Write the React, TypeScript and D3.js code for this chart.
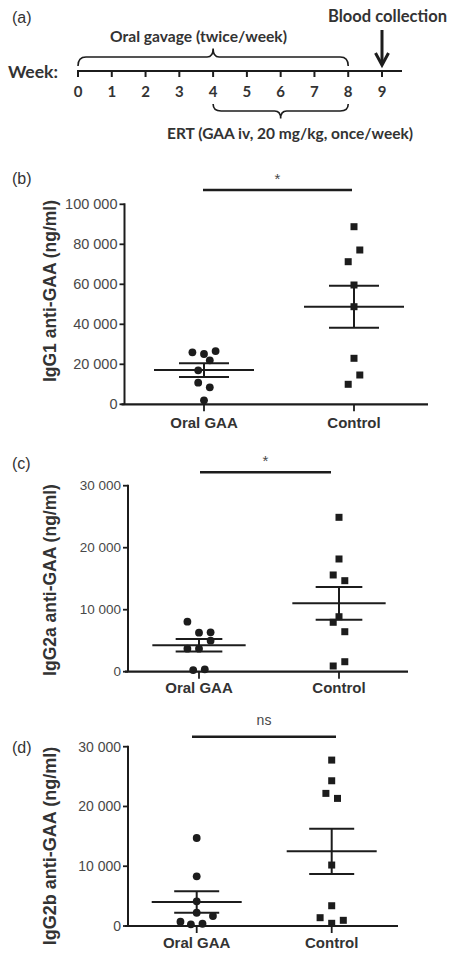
import React from "react";
import * as d3 from "d3";

// ---------- DATA ----------
const categories = ["Oral GAA", "Control"];
const weekTicks = [0, 1, 2, 3, 4, 5, 6, 7, 8, 9];

// IgG1 (panel b)
const igg1Oral = [26000, 25150, 26600, 22000, 17000, 10800, 8500, 2000];
const igg1OralSlot = [-2, 0, 2, 1, -1, -1, 1, 0];
const igg1Control = [88800, 77150, 71300, 59650, 48800, 23000, 14650, 10000];
const igg1ControlSlot = [0, 1, -1, 0, 0, 0, 1, -1];
const igg1Mean = [17100, 48800];
const igg1Sem = [3450, 10500];
const igg1Ticks = [0, 20000, 40000, 60000, 80000, 100000];

// IgG2a (panel c)
const igg2aOral = [8065, 6290, 6355, 5000, 3710, 3710, 270, 390];
const igg2aOralSlot = [-2, 0, 2, 2, -2, 0, -1, 1];
const igg2aControl = [24900, 18180, 15600, 14680, 8870, 7970, 6450, 1610, 920];
const igg2aControlSlot = [0, 0, -1, 1, 0, -1, 1, 1, -1];
const igg2aMean = [4260, 11030];
const igg2aSem = [1020, 2640];

// IgG2b (panel d)
const igg2bOral = [14720, 8310, 4130, 2220, 1670, 720, 280, 380];
const igg2bOralSlot = [0, 0, 0, 0, 2.8, -2.8, -1, 1];
const igg2bControl = [27760, 24300, 22190, 21350, 10200, 3390, 1390, 950, 450];
const igg2bControlSlot = [0, 0, -1, 1, 0, 0, -2, 2, 0];
const igg2bMean = [4010, 12490];
const igg2bSem = [1810, 3780];

const igg2Ticks = [0, 10000, 20000, 30000];

// ---------- STYLE ----------
const ARIAL = "'Liberation Sans', Arial, sans-serif";
const CAL = "Lato, 'Open Sans', sans-serif";
const INK = "#1c1c1c";
const TEXT = "#333";
const TICKTXT = "#484848";

const locale = d3.formatLocale({ decimal: ".", thousands: " ", grouping: [3], currency: ["", ""] });
const fmt = locale.format(",d");

type PanelProps = {
  letter: string;
  letterY: number;
  yLabel: string;
  yLabelSize: number;
  yLabelCenter: number;
  oral: number[];
  oralSlot: number[];
  control: number[];
  controlSlot: number[];
  mean: number[];
  sem: number[];
  ticks: number[];
  yMax: number;
  yTop: number;
  yBottom: number;
  axisX: number;
  axisEnd: number;
  xs: [number, number];
  tickSize: number;
  sigText: string;
  sigY: number;
  sigX: [number, number];
  catLabelY: number;
};

function Panel(p: PanelProps) {
  const y = d3.scaleLinear().domain([0, p.yMax]).range([p.yBottom, p.yTop]);
  const x = d3.scalePoint<string>().domain(categories).range(p.xs).padding(0);
  const spacing = p.xs[1] - p.xs[0];
  const meanHalf = spacing / 3;
  const semHalf = spacing / 6;
  const unit = 5.8;
  const groups = [
    { cat: categories[0], vals: p.oral, slots: p.oralSlot, shape: "circle" },
    { cat: categories[1], vals: p.control, slots: p.controlSlot, shape: "square" },
  ];
  return (
    <g>
      <text x={12} y={p.letterY} dy="0.35em" fontFamily={ARIAL} fontSize={16} fill={TEXT}>
        {p.letter}
      </text>
      {/* significance bar */}
      <line x1={p.sigX[0]} x2={p.sigX[1]} y1={p.sigY} y2={p.sigY} stroke={INK} strokeWidth={2.6} />
      <text
        x={(p.sigX[0] + p.sigX[1]) / 2}
        y={p.sigY - (p.sigText === "*" ? 6 : 12)}
        textAnchor="middle"
        fontFamily={ARIAL}
        fontSize={p.sigText === "*" ? 15 : 14}
        fill={TICKTXT}
      >
        {p.sigText}
      </text>
      {/* y axis */}
      <line x1={p.axisX} x2={p.axisX} y1={p.yTop - 1} y2={p.yBottom} stroke={INK} strokeWidth={2} />
      {p.ticks.map((t) => (
        <g key={t}>
          <line x1={p.axisX - 5} x2={p.axisX} y1={y(t)} y2={y(t)} stroke={INK} strokeWidth={1.8} />
          <text
            x={p.axisX - 7}
            y={y(t)}
            dy="0.35em"
            textAnchor="end"
            fontFamily={ARIAL}
            fontSize={p.tickSize}
            fill={TICKTXT}
          >
            {fmt(t)}
          </text>
        </g>
      ))}
      {/* x axis */}
      <line x1={p.axisX - 3} x2={p.axisEnd} y1={p.yBottom} y2={p.yBottom} stroke={INK} strokeWidth={2.2} />
      {categories.map((c) => (
        <g key={c}>
          <line x1={x(c)} x2={x(c)} y1={p.yBottom} y2={p.yBottom + 7} stroke={INK} strokeWidth={1.8} />
          <text
            x={x(c)}
            y={p.catLabelY}
            dy="0.35em"
            textAnchor="middle"
            fontFamily={ARIAL}
            fontWeight="bold"
            fontSize={15}
            fill={TEXT}
          >
            {c}
          </text>
        </g>
      ))}
      {/* y label */}
      <text
        transform={`translate(50,${p.yLabelCenter}) rotate(-90)`}
        dy="0.35em"
        textAnchor="middle"
        fontFamily={ARIAL}
        fontWeight="bold"
        fontSize={p.yLabelSize}
        fill={TEXT}
      >
        {p.yLabel}
      </text>
      {/* points */}
      {groups.map((g) =>
        g.vals.map((v, i) => {
          const cx = (x(g.cat) as number) + g.slots[i] * unit;
          const cy = y(v);
          return g.shape === "circle" ? (
            <circle key={g.cat + i} cx={cx} cy={cy} r={3.9} fill={INK} />
          ) : (
            <rect key={g.cat + i} x={cx - 3.5} y={cy - 3.5} width={7} height={7} fill={INK} />
          );
        })
      )}
      {/* mean & sem */}
      {categories.map((c, i) => {
        const cx = x(c) as number;
        const m = p.mean[i];
        const s = p.sem[i];
        return (
          <g key={"m" + c} stroke={INK} strokeWidth={2}>
            <line x1={cx - meanHalf} x2={cx + meanHalf} y1={y(m)} y2={y(m)} />
            <line x1={cx - semHalf} x2={cx + semHalf} y1={y(m + s)} y2={y(m + s)} />
            <line x1={cx - semHalf} x2={cx + semHalf} y1={y(m - s)} y2={y(m - s)} />
            <line x1={cx} x2={cx} y1={y(m + s)} y2={y(m - s)} />
          </g>
        );
      })}
    </g>
  );
}

function Timeline() {
  const s = d3.scaleLinear().domain([0, 9]).range([78, 382]);
  const lineY = 71;
  const brace = (x0: number, x1: number, yEnd: number, yMid: number, yTip: number) => {
    const p = d3.path();
    const xm = (x0 + x1) / 2;
    p.moveTo(x0, yEnd);
    p.quadraticCurveTo(x0, yMid, x0 + 8, yMid);
    p.lineTo(xm - 6, yMid);
    p.quadraticCurveTo(xm, yMid, xm, yTip);
    p.quadraticCurveTo(xm, yMid, xm + 6, yMid);
    p.lineTo(x1 - 8, yMid);
    p.quadraticCurveTo(x1, yMid, x1, yEnd);
    return p.toString();
  };
  const ax = s(9);
  return (
    <g>
      <text x={12} y={17} dy="0.35em" fontFamily={ARIAL} fontSize={16} fill={TEXT}>
        (a)
      </text>
      <text x={328} y={16.5} dy="0.35em" fontFamily={CAL} fontWeight="bold" fontSize={16.5} fill={TEXT}
        textLength={119} lengthAdjust="spacingAndGlyphs">
        Blood collection
      </text>
      <text x={110} y={36} dy="0.35em" fontFamily={CAL} fontWeight="bold" fontSize={16} fill={TEXT}
        textLength={177} lengthAdjust="spacingAndGlyphs">
        Oral gavage (twice/week)
      </text>
      <text x={8} y={72} dy="0.35em" fontFamily={CAL} fontWeight="bold" fontSize={17} fill={TEXT}
        textLength={50} lengthAdjust="spacingAndGlyphs">
        Week:
      </text>
      <text x={167} y={133} dy="0.35em" fontFamily={CAL} fontWeight="bold" fontSize={16} fill={TEXT}
        textLength={246} lengthAdjust="spacingAndGlyphs">
        ERT (GAA iv, 20 mg/kg, once/week)
      </text>
      <line x1={77} x2={402} y1={lineY} y2={lineY} stroke={INK} strokeWidth={2.2} />
      {weekTicks.map((w) => (
        <g key={w}>
          <line x1={s(w)} x2={s(w)} y1={lineY} y2={lineY + 6} stroke={INK} strokeWidth={2} />
          <text x={s(w)} y={91.5} dy="0.35em" textAnchor="middle" fontFamily={CAL} fontWeight="bold"
            fontSize={15} fill={TEXT}>
            {w}
          </text>
        </g>
      ))}
      <path d={brace(s(0), s(8), 66, 57, 48.5)} fill="none" stroke={INK} strokeWidth={1.6} />
      <path d={brace(s(4), s(8), 104, 111, 118.5)} fill="none" stroke={INK} strokeWidth={1.6} />
      <line x1={ax} x2={ax} y1={30} y2={64} stroke={INK} strokeWidth={3} />
      <polyline points={`${ax - 6.5},${53} ${ax},${65} ${ax + 6.5},${53}`} fill="none" stroke={INK} strokeWidth={3} />
    </g>
  );
}

export default function App() {
  return (
    <svg width={456} height={958} style={{ position: "absolute", left: 0, top: 0, background: "#fff" }}>
      <rect width={456} height={958} fill="#fff" />
      <Timeline />
      <Panel
        letter="(b)"
        letterY={178}
        yLabel="IgG1 anti-GAA (ng/ml)"
        yLabelSize={17.5}
        yLabelCenter={291}
        oral={igg1Oral}
        oralSlot={igg1OralSlot}
        control={igg1Control}
        controlSlot={igg1ControlSlot}
        mean={igg1Mean}
        sem={igg1Sem}
        ticks={igg1Ticks}
        yMax={100000}
        yTop={204.3}
        yBottom={404.3}
        axisX={124.5}
        axisEnd={428}
        xs={[204, 354]}
        tickSize={14.5}
        sigText="*"
        sigY={190}
        sigX={[203, 352]}
        catLabelY={423}
      />
      <Panel
        letter="(c)"
        letterY={463}
        yLabel="IgG2a anti-GAA (ng/ml)"
        yLabelSize={17.5}
        yLabelCenter={580}
        oral={igg2aOral}
        oralSlot={igg2aOralSlot}
        control={igg2aControl}
        controlSlot={igg2aControlSlot}
        mean={igg2aMean}
        sem={igg2aSem}
        ticks={igg2Ticks}
        yMax={30000}
        yTop={485.7}
        yBottom={671.7}
        axisX={128}
        axisEnd={408}
        xs={[199, 339]}
        tickSize={13.5}
        sigText="*"
        sigY={472.3}
        sigX={[200, 331]}
        catLabelY={688}
      />
      <Panel
        letter="(d)"
        letterY={747}
        yLabel="IgG2b anti-GAA (ng/ml)"
        yLabelSize={18}
        yLabelCenter={846}
        oral={igg2bOral}
        oralSlot={igg2bOralSlot}
        control={igg2bControl}
        controlSlot={igg2bControlSlot}
        mean={igg2bMean}
        sem={igg2bSem}
        ticks={igg2Ticks}
        yMax={30000}
        yTop={746.7}
        yBottom={926}
        axisX={128}
        axisEnd={398}
        xs={[196.7, 331.7]}
        tickSize={14}
        sigText="ns"
        sigY={736.7}
        sigX={[192, 336]}
        catLabelY={943}
      />
    </svg>
  );
}
